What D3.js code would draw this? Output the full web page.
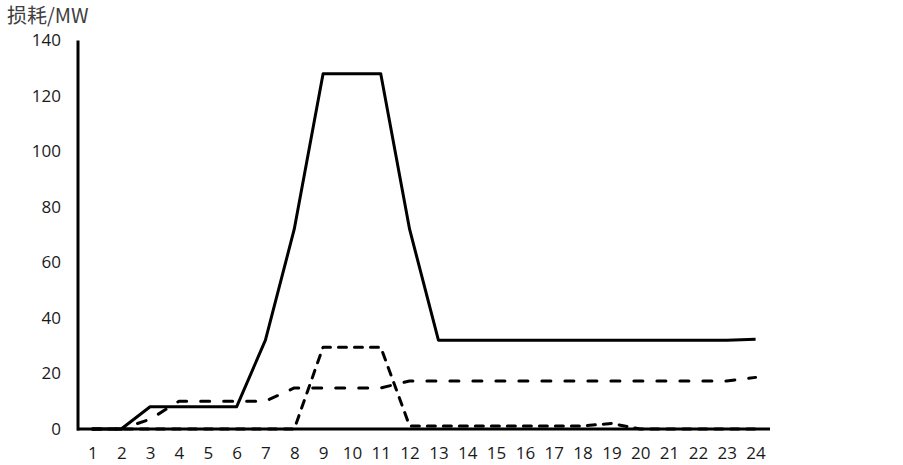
<!DOCTYPE html>
<html>
<head>
<meta charset="utf-8">
<script src="https://cdn.jsdelivr.net/npm/d3@7"></script>
<style>
  body { margin: 0; background: #fff; }
  text { font-family: "Open Sans", "Noto Sans CJK SC", sans-serif; }
</style>
</head>
<body>
<svg width="903" height="465"></svg>
<script>
// Data
var hours = d3.range(1, 25);
var lossA = [0, 0, 8, 8, 8, 8, 32, 72, 128, 128, 128, 72, 32, 32, 32, 32, 32, 32, 32, 32, 32, 32, 32, 32.3];
var lossB = [0, 0, 3.5, 10, 10, 10, 10, 14.8, 14.8, 14.8, 14.8, 17.3, 17.3, 17.3, 17.3, 17.3, 17.3, 17.3, 17.3, 17.3, 17.3, 17.3, 17.3, 18.6];
var lossC = [0, 0, 0, 0, 0, 0, 0, 0, 29.5, 29.5, 29.5, 1.1, 1.1, 1.1, 1.1, 1.1, 1.1, 1.1, 2, 0, 0, 0, 0, 0];
var yTicks = [0, 20, 40, 60, 80, 100, 120, 140];

var svg = d3.select("svg");

// Scales
var x = d3.scalePoint()
    .domain(hours)
    .range([78, 770])
    .padding(0.5);
var y = d3.scaleLinear()
    .domain([0, 140])
    .range([429, 40.5]);

// Y label
svg.append("text")
    .attr("x", 7)
    .attr("y", 23)
    .style("font-family", "'Noto Sans CJK SC', sans-serif")
    .style("font-size", "20px")
    .attr("fill", "#404040")
    .text("损耗/MW");

// Axes (no tick marks, only labels)
var yAxis = d3.axisLeft(y).tickValues(yTicks).tickSize(0).tickPadding(17);
var gy = svg.append("g").attr("transform", "translate(78,0)").call(yAxis);
var xAxis = d3.axisBottom(x).tickSize(0).tickPadding(18);
var gx = svg.append("g").attr("transform", "translate(0," + y(0) + ")").call(xAxis);

svg.selectAll(".domain").remove();
svg.selectAll(".tick text")
    .style("font-family", "'Open Sans', sans-serif")
    .style("font-size", "17px")
    .attr("fill", "#1a1a1a");

svg.append("line")
    .attr("x1", 78).attr("x2", 78)
    .attr("y1", y(0) + 1.5).attr("y2", y(140))
    .attr("stroke", "#000").attr("stroke-width", 3);
svg.append("line")
    .attr("x1", 77).attr("x2", 770)
    .attr("y1", y(0)).attr("y2", y(0))
    .attr("stroke", "#000").attr("stroke-width", 3);

// Lines
var line = d3.line()
    .x(function (d, i) { return x(hours[i]); })
    .y(function (d) { return y(d); });

var series = [
    {values: lossA, dash: null},
    {values: lossB, dash: "9,14"},
    {values: lossC, dash: "8,8"}
];

svg.selectAll("path.series")
    .data(series)
    .enter().append("path")
    .attr("class", "series")
    .attr("d", function (d) { return line(d.values); })
    .style("fill", "none")
    .style("stroke", "#000")
    .style("stroke-width", 3)
    .style("stroke-linejoin", "round")
    .style("stroke-linecap", function (d) { return d.dash ? "round" : "butt"; })
    .style("stroke-dasharray", function (d) { return d.dash; });
</script>
</body>
</html>
